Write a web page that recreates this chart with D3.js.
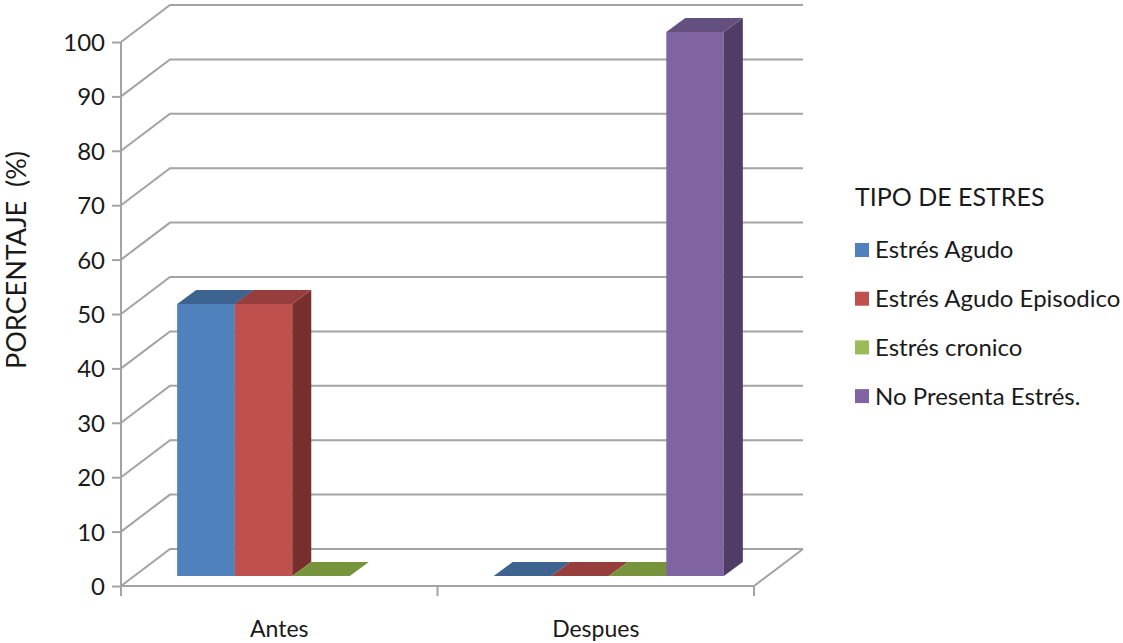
<!DOCTYPE html>
<html>
<head>
<meta charset="utf-8">
<script src="https://cdn.jsdelivr.net/npm/d3@7"></script>
<style>
  body { margin: 0; background: #fff; }
  text { font-family: Lato, "Open Sans", sans-serif; fill: #1a1a1a; }
</style>
</head>
<body>
<svg id="chart" width="1123" height="643"></svg>
<script>
var categories = ["Antes", "Despues"];
var series = ["Estrés Agudo", "Estrés Agudo Episodico", "Estrés cronico", "No Presenta Estrés."];
// values per category, in series order (null = not drawn)
var antesValues = [50, 50, 0, null];
var despuesValues = [0, 0, 0, 100];
var yTicks = [0, 10, 20, 30, 40, 50, 60, 70, 80, 90, 100];
var legendTitle = "TIPO DE ESTRES";
var yTitle = "PORCENTAJE  (%)";

var front = ["#4F81BD", "#C0504D", "#9BBB59", "#8064A2"];
var topC = ["#3D6491", "#963E3C", "#77933C", "#64507F"];
var sideC = ["#345681", "#772F2D", "#5E752F", "#4F3D66"];

var svg = d3.select("#chart");
var wallDx = 49, wallDy = -37;   // depth of the floor/back wall
var barDx = 19, barDy = -14;     // depth of a bar
var barOffX = 13, barOffY = -10; // bar front plane offset

var y = d3.scaleLinear().domain([0, 100]).range([586, 42]);
var x = d3.scaleBand().domain(categories).range([121, 754]);
var xs = d3.scaleBand().domain(series).range([0, x.bandwidth()]).paddingOuter(0.75);

var grid = svg.append("g").attr("stroke", "#a3a3a3").attr("stroke-width", 2).attr("fill", "none");
yTicks.forEach(function (v) {
    var yy = y(v);
    grid.append("path").attr("d", "M" + x.range()[0] + "," + yy + "L" + (x.range()[0] + wallDx) + "," + (yy + wallDy) +
        "L" + (x.range()[1] + wallDx) + "," + (yy + wallDy));
});
// floor front + right edge
grid.append("path").attr("d", "M" + x.range()[0] + "," + y(0) + "L" + x.range()[1] + "," + y(0) +
    "L" + (x.range()[1] + wallDx) + "," + (y(0) + wallDy));

// left axis
var yAxis = d3.axisLeft(y).tickValues(yTicks).tickSize(9).tickPadding(7);
var ga = svg.append("g").attr("transform", "translate(" + x.range()[0] + ",0)").call(yAxis);
ga.select(".domain").attr("stroke", "#a3a3a3").attr("stroke-width", 2).attr("d", "M-9,42.5H0V596");
ga.selectAll(".tick line").attr("stroke", "#a3a3a3").attr("stroke-width", 2);
ga.selectAll(".tick text").style("font-size", "24px").attr("fill", "#1a1a1a").attr("dy", "0.35em");
ga.selectAll(".tick").filter(function (d) { return d === 100; }).select("line").remove();

// category ticks
var xb = [x.range()[0], x(categories[1]), x.range()[1]];
xb.forEach(function (v) {
    svg.append("line").attr("x1", v).attr("x2", v).attr("y1", y(0)).attr("y2", y(0) + 10)
        .attr("stroke", "#a3a3a3").attr("stroke-width", 2);
});
categories.forEach(function (c) {
    svg.append("text").attr("x", x(c) + x.bandwidth() / 2).attr("y", 637)
        .attr("text-anchor", "middle").style("font-size", "23px").text(c);
});

// bars
var data = [antesValues, despuesValues];
var bars = svg.append("g");
categories.forEach(function (c, ci) {
    data[ci].forEach(function (v, si) {
        if (v === null) return;
        var x0 = x(c) + xs(series[si]) + barOffX, w = xs.bandwidth();
        var yb = y(0) + barOffY, yt = y(v) + barOffY;
        if (v > 0) {
            bars.append("rect").attr("x", x0).attr("y", yt).attr("width", w).attr("height", yb - yt).attr("fill", front[si]);
            bars.append("path").attr("fill", sideC[si]).attr("d",
                "M" + (x0 + w) + "," + yt + "L" + (x0 + w + barDx) + "," + (yt + barDy) +
                "L" + (x0 + w + barDx) + "," + (yb + barDy) + "L" + (x0 + w) + "," + yb + "Z");
        }
        bars.append("path").attr("fill", topC[si]).attr("d",
            "M" + x0 + "," + yt + "L" + (x0 + barDx) + "," + (yt + barDy) +
            "L" + (x0 + w + barDx) + "," + (yt + barDy) + "L" + (x0 + w) + "," + yt + "Z");
    });
});

// y title
svg.append("text").attr("transform", "translate(26,260) rotate(-90)").attr("text-anchor", "middle")
    .style("font-size", "27px").style("white-space", "pre").text(yTitle);

// legend
svg.append("text").attr("x", 855).attr("y", 206).style("font-size", "25px").text(legendTitle);
var lg = svg.append("g").attr("transform", "translate(855,250)");
series.forEach(function (s, i) {
    var g = lg.append("g").attr("transform", "translate(0," + (i * 48.7) + ")");
    g.append("rect").attr("x", 0).attr("y", -7).attr("width", 14).attr("height", 14).attr("fill", front[i]);
    g.append("text").attr("x", 20).attr("y", 0).attr("dy", "0.35em").style("font-size", "24px").text(s);
});
</script>
</body>
</html>
